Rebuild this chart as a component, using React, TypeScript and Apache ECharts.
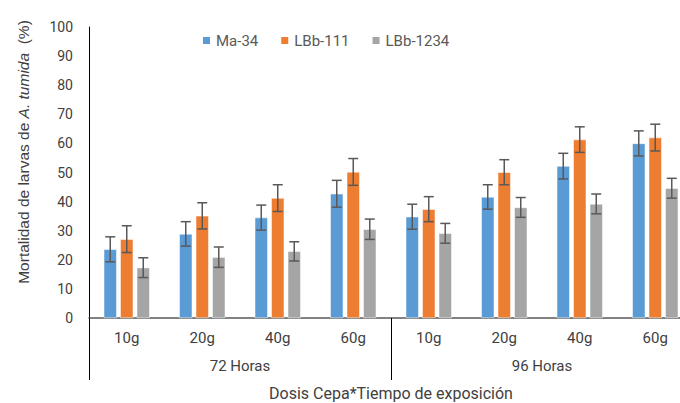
import React, { useEffect, useRef } from "react";
import * as echarts from "echarts";

const categories = ["10g", "20g", "40g", "60g", "10g", "20g", "40g", "60g"];
const groups = ["72 Horas", "96 Horas"];
const yTicks = { min: 0, max: 100, interval: 10 };

const ma34 = [23.6, 28.9, 34.5, 42.7, 34.8, 41.6, 52.2, 60.0];
const ma34Err = [4.3, 4.2, 4.3, 4.6, 4.3, 4.2, 4.4, 4.3];
const lbb111 = [27.1, 35.1, 41.2, 50.2, 37.4, 50.1, 61.3, 62.0];
const lbb111Err = [4.6, 4.5, 4.6, 4.6, 4.3, 4.3, 4.4, 4.6];
const lbb1234 = [17.3, 20.9, 22.9, 30.5, 29.1, 38.0, 39.2, 44.6];
const lbb1234Err = [3.4, 3.5, 3.3, 3.5, 3.4, 3.4, 3.4, 3.4];

const seriesNames = ["Ma-34", "LBb-111", "LBb-1234"];
const colors = ["#5B9BD5", "#ED7D31", "#A5A5A5"];

const BAR_W = 13;
const BAR_GAP_PX = 3.5;

function errorSeries(values: number[], errs: number[], slot: number) {
  const offset = (slot - 1) * (BAR_W + BAR_GAP_PX);
  return {
    type: "custom",
    xAxisIndex: 0,
    yAxisIndex: 0,
    z: 10,
    silent: true,
    data: values.map((v, i) => [i, v, errs[i]]),
    renderItem: (params: any, api: any) => {
      const idx = api.value(0);
      const v = api.value(1);
      const e = api.value(2);
      const top = api.coord([idx, v + e]);
      const bot = api.coord([idx, v - e]);
      const x = top[0] + offset;
      const hw = 5;
      const style = { stroke: "#595959", lineWidth: 1.5 };
      return {
        type: "group",
        children: [
          { type: "line", shape: { x1: x, y1: top[1], x2: x, y2: bot[1] }, style },
          { type: "line", shape: { x1: x - hw, y1: top[1], x2: x + hw, y2: top[1] }, style },
          { type: "line", shape: { x1: x - hw, y1: bot[1], x2: x + hw, y2: bot[1] }, style },
        ],
      };
    },
  };
}

export default function App() {
  const ref = useRef<HTMLDivElement>(null);
  useEffect(() => {
    document.body.style.margin = "0";
    const chart = echarts.init(ref.current!, null, { renderer: "svg" });
    const font = "Roboto";
    const values = [ma34, lbb111, lbb1234];
    chart.setOption({
      animation: false,
      backgroundColor: "#ffffff",
      textStyle: { fontFamily: font },
      legend: {
        data: seriesNames.map((n) => ({ name: n, icon: "rect" })),
        top: 28,
        left: 196,
        itemWidth: 9,
        itemHeight: 9,
        itemGap: 21,
        textStyle: { fontFamily: font, fontSize: 15, color: "#595959" },
      },
      grid: {
        left: 89,
        top: 27,
        width: 604,
        height: 291,
        containLabel: false,
        outerBoundsMode: "none",
      },
      graphic: [
        {
          type: "text",
          x: 23,
          y: 152,
          rotation: Math.PI / 2,
          style: {
            text: "{n|Mortalidad de larvas de }{i|A. tumida}{n|  (%)}",
            align: "center",
            verticalAlign: "middle",
            rich: {
              n: { fontSize: 15.5, fill: "#404040", fontFamily: "Liberation Sans" },
              i: {
                fontSize: 15.5,
                fill: "#404040",
                fontFamily: "Liberation Sans",
                fontStyle: "italic",
              },
            },
          },
        },
      ],
      xAxis: [
        {
          type: "category",
          data: categories,
          position: "bottom",
          axisLine: { show: true, lineStyle: { color: "#595959", width: 1.5 } },
          axisTick: { show: false },
          axisLabel: { margin: 12, fontSize: 15, color: "#404040", fontFamily: font },
        },
        {
          type: "category",
          data: groups,
          position: "bottom",
          axisLine: { show: false },
          axisTick: { show: true, length: 62, lineStyle: { color: "#000000", width: 1 } },
          axisLabel: { margin: 40, fontSize: 15, color: "#404040", fontFamily: font },
          name: "Dosis Cepa*Tiempo de exposición",
          nameLocation: "middle",
          nameGap: 67,
          nameTextStyle: { fontSize: 16, color: "#404040", fontFamily: font },
        },
      ],
      yAxis: {
        type: "value",
        min: yTicks.min,
        max: yTicks.max,
        interval: yTicks.interval,
        splitLine: { show: false },
        axisLine: { show: true, lineStyle: { color: "#000000", width: 1 } },
        axisTick: { show: false },
        axisLabel: { margin: 16, fontSize: 14, color: "#404040", fontFamily: font },
      },
      series: [
        ...seriesNames.map((n, k) => ({
          name: n,
          type: "bar",
          xAxisIndex: 0,
          data: values[k],
          barWidth: BAR_W,
          barGap: (BAR_GAP_PX / BAR_W) * 100 + "%",
          itemStyle: { color: colors[k], borderColor: "#ffffff", borderWidth: 0.5 },
        })),
        errorSeries(ma34, ma34Err, 0),
        errorSeries(lbb111, lbb111Err, 1),
        errorSeries(lbb1234, lbb1234Err, 2),
      ],
    });
    return () => chart.dispose();
  }, []);
  return <div ref={ref} style={{ width: 680, height: 403 }} />;
}
